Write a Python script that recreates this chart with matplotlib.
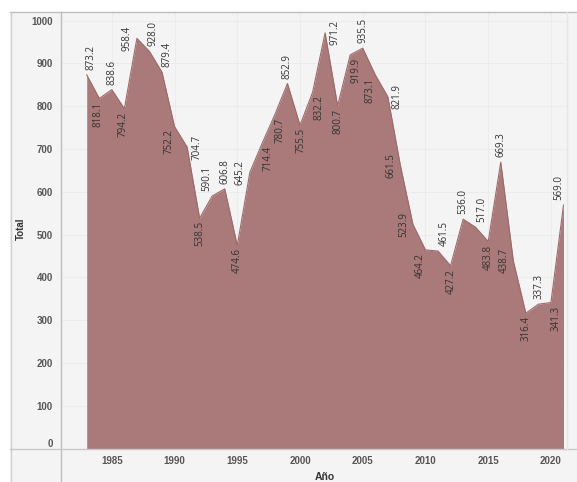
import matplotlib
matplotlib.use("Agg")
import matplotlib.pyplot as plt
from matplotlib.lines import Line2D
from matplotlib.patches import Rectangle

years = list(range(1983, 2022))
totals = [873.2, 818.1, 838.6, 794.2, 958.4, 928.0, 879.4, 752.2, 704.7, 538.5,
          590.1, 606.8, 474.6, 645.2, 714.4, 780.7, 852.9, 755.5, 832.2, 971.2,
          800.7, 919.9, 935.5, 873.1, 821.9, 661.5, 523.9, 464.2, 461.5, 427.2,
          536.0, 517.0, 483.8, 669.3, 438.7, 316.4, 337.3, 341.3, 569.0]
x_ticks = [1985, 1990, 1995, 2000, 2005, 2010, 2015, 2020]
y_ticks = list(range(0, 1001, 100))

# label placement: a=above, b=below, l=left, r=right ; dx in pixels
place = ['a', 'b', 'a', 'b', 'l', 'a', 'a', 'b', 'r', 'b',
         'a', 'a', 'b', 'l', 'b', 'b', 'a', 'b', 'b', 'r',
         'b', 'b', 'a', 'b', 'r', 'l', 'l', 'b', 'a', 'b',
         'a', 'a', 'b', 'a', 'l', 'b', 'a', 'b', 'a']
shift = [4, -1, 0, -1, 0, 4, 5, -6, 0, 0,
         -5, 0, 0, 0, 6, 5, 0, 1, 6, 0,
         0, 6, 0, -5, 0, 0, 0, -5, 6, 1,
         0, 6, 0, 0, 0, 0, 1, 5, -5]

W, H = 577, 482
fig = plt.figure(figsize=(W / 100, H / 100), dpi=100)
fig.patch.set_facecolor('white')

bg = '#f4f4f4'
fig.patches.append(Rectangle((10 / W, 0), 1 - 10 / W, 1 - 12 / H,
                             transform=fig.transFigure, facecolor=bg,
                             edgecolor='none', zorder=-5))

ax = fig.add_axes([61 / W, 1 - 449 / H, (566 - 61) / W, (449 - 12) / H])
ax.set_zorder(2)
ax.set_facecolor(bg)

fill_c = '#a97a79'
ax.fill_between(years, 0, totals, color=fill_c, linewidth=0, zorder=2)
ax.plot(years, totals, color='#9b6b6b', lw=0.8, zorder=3)

ax.set_xlim(1980.95, 2021.2)
ax.set_ylim(-1, 1020)
ax.set_xticks(x_ticks)
ax.set_yticks(y_ticks)
for s in ax.spines.values():
    s.set_visible(False)
ax.grid(True, color='#ebebeb', lw=0.6, zorder=1)
ax.set_axisbelow(True)
ax.tick_params(length=0, labelsize=7, labelcolor='#555555')
ax.tick_params(axis='y', pad=6)
ax.tick_params(axis='x', pad=5)
for lab in ax.get_xticklabels() + ax.get_yticklabels():
    lab.set_fontfamily('Liberation Sans')
    lab.set_fontweight('bold')
ax.get_yticklabels()[0].set_va('bottom')

for x, v, p, dx in zip(years, totals, place, shift):
    if p == 'a':
        off, ha, va = (dx, 5), 'center', 'bottom'
    elif p == 'b':
        off, ha, va = (dx, -3), 'center', 'top'
    elif p == 'l':
        off, ha, va = (-4, dx), 'right', 'center'
    else:
        off, ha, va = (4, dx), 'left', 'center'
    ax.annotate(f'{v:.1f}', (x, v), xytext=off, textcoords='offset pixels',
                rotation=90, ha=ha, va=va, fontsize=7, color='#333333',
                family='Open Sans', zorder=4)

fig.text(21 / W, 1 - 229 / H, 'Total', rotation=90, ha='center', va='center',
         fontsize=7, fontweight='bold', color='#333333', family='Liberation Sans')
fig.text(325 / W, 1 - 477 / H, 'Año', ha='center', va='center',
         fontsize=7.5, fontweight='bold', color='#333333', family='Liberation Sans')

def fline(x0, y0, x1, y1, c, lw=1.0):
    fig.add_artist(Line2D([x0 / W, x1 / W], [1 - y0 / H, 1 - y1 / H],
                          transform=fig.transFigure, color=c, lw=lw, zorder=10))

fline(10, 12, 577, 12, '#bdbdbd')
fline(10.5, 12, 10.5, 482, '#d0d0d0')
fline(61, 12, 61, 482, '#bdbdbd')
fline(10, 449, 577, 449, '#c8c8c8')
fline(566.5, 12, 566.5, 449, '#e6e6e6')

fig.savefig('out.png', dpi=100, facecolor=fig.get_facecolor())
